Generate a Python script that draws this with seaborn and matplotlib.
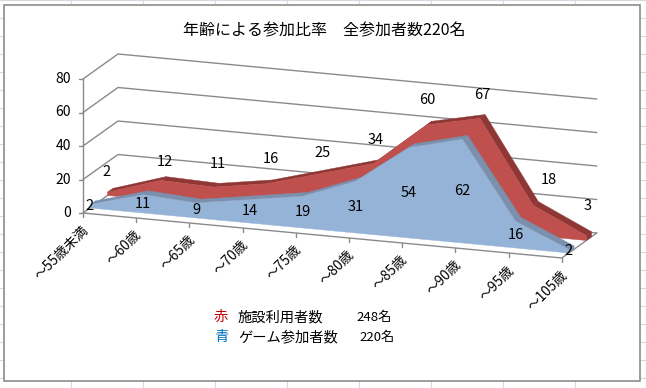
#!/usr/bin/env python3
# -*- coding: utf-8 -*-

import numpy as np
import pandas as pd
import matplotlib
matplotlib.use("Agg")
import matplotlib.pyplot as plt
import seaborn as sns

age_labels = ["～55歳未満", "～60歳", "～65歳", "～70歳", "～75歳",
              "～80歳", "～85歳", "～90歳", "～95歳", "～105歳"]
facility_users = [2, 12, 11, 16, 25, 34, 60, 67, 18, 3]
game_players = [2, 11, 9, 14, 19, 31, 54, 62, 16, 2]
value_ticks = [0, 20, 40, 60, 80]

title_text = "年齢による参加比率　全参加者数220名"
legend_red = ["赤", "施設利用者数", "248名"]
legend_blue = ["青", "ゲーム参加者数", "220名"]

sns.set_theme(style="white")
plt.rcParams['font.family'] = ['Noto Sans CJK JP', 'DejaVu Sans']

GRID = "#8a8a8a"
SHEET = "#d4d9e2"
RED, RED_DARK = "#c0504d", "#8e3735"
BLUE, BLUE_DARK = "#95b3d7", "#7a90ad"


# oblique projection of the excel 3d chart, all in pixels of the picture
def proj(i, v, d):
    i, v, d = np.asarray(i, float), np.asarray(v, float), np.asarray(d, float)
    return 83 + 53.2 * i + 35 * d, 213 + 5 * i - 1.675 * v - 25 * d


def line(ax, xs, ys, color=GRID, lw=1.0):
    sns.lineplot(x=list(xs), y=list(ys), color=color, linewidth=lw, sort=False,
                 estimator=None, errorbar=None, ax=ax, zorder=2)


def draw_area(ax, vals, d0, d1, front, top):
    vals = np.asarray(vals, float)
    idx = np.arange(len(vals))
    # top faces, back to front along the slope
    for i in range(len(vals) - 1):
        xa, ya = proj([i, i + 1, i + 1, i], [vals[i], vals[i + 1], vals[i + 1], vals[i]],
                      [d0, d0, d1, d1])
        ax.fill(xa, ya, color=top, lw=0.3, zorder=3)
    # end face on the right
    xe, ye = proj([idx[-1]] * 4, [0, vals[-1], vals[-1], 0], [d0, d0, d1, d1])
    ax.fill(xe, ye, color=top, lw=0.3, zorder=3)
    # front face
    xf, yf = proj(idx, vals, d0)
    xb, yb = proj(idx[::-1], 0, d0)
    ax.fill(np.r_[xf, xb], np.r_[yf, yb], color=front, lw=0.3, zorder=3)


fig = plt.figure(figsize=(6.46, 3.88), dpi=100)
fig.patch.set_facecolor("white")
ax = fig.add_axes([0, 0, 1, 1])

# worksheet cells behind the chart
for x in range(71, 646, 72):
    ax.axvline(x, color=SHEET, lw=0.8, zorder=0)
for y in range(0, 388, 18):
    ax.axhline(y, color=SHEET, lw=0.8, zorder=0)
ax.add_patch(plt.Rectangle((3.5, 4.5), 636, 376, fc="white", ec="#8c8c8c", lw=1.2, zorder=1))

n = len(age_labels)

# walls
for v in value_ticks:
    xs, ys = proj([0, 0, n - 1], [v, v, v], [0, 1, 1])
    line(ax, xs, ys)
    xt, yt = proj(0, v, 0)
    line(ax, [xt - 4, xt], [yt, yt])
    ax.text(xt - 12, yt, str(v), ha="right", va="center", fontsize=10, color="black", zorder=6)
xs, ys = proj([0, 0], [0, value_ticks[-1]], [0, 0])
line(ax, xs, ys)

# floor edges and category ticks
xs, ys = proj([0, n - 1, n - 1], [0, 0, 0], [0, 0, 1])
line(ax, xs, ys)
for i, lab in enumerate(age_labels):
    xt, yt = proj(i, 0, 0)
    line(ax, [xt, xt], [yt, yt + 4])
    ax.text(xt + 3, yt + 15, lab, rotation=45, rotation_mode="anchor", ha="right", va="center",
            fontsize=9.8, color="black", zorder=6)

draw_area(ax, facility_users, 0.7, 0.85, RED, RED_DARK)
draw_area(ax, game_players, 0.2, 0.35, BLUE, BLUE_DARK)

# data labels, red ones float above the back edge with excel's small offsets
red_nudge = [(-6, -16), (-1, -15), (-1, -19), (-1, -21), (-3, -17),
             (-3, -20), (-5, -21), (-3, -20), (10, -22), (-4, -26)]
for i, v in enumerate(facility_users):
    x, y = proj(i, v, 0.85)
    ax.text(x + red_nudge[i][0], y + red_nudge[i][1], str(v), ha="center", va="center",
            fontsize=10.5, color="black", zorder=7)
for i, v in enumerate(game_players):
    x, y = proj(i, v / 2, 0.2)
    ax.text(x, y, str(v), ha="center", va="center", fontsize=10.5, color="black", zorder=7)

ax.text(324, 31, title_text, ha="center", va="center", fontsize=11.5, color="black", zorder=7)

table = pd.DataFrame([legend_red, legend_blue], columns=["mark", "name", "count"])
table["color"] = ["#c00000", "#0070c0"]
table["y"] = [317, 337]
table["count_x"] = [356, 359]
for row in table.itertuples():
    ax.text(214, row.y, row.mark, ha="left", va="center", fontsize=10.3, color=row.color, zorder=7)
    ax.text(238, row.y, row.name, ha="left", va="center", fontsize=10.3, color="black", zorder=7)
    ax.text(row.count_x, row.y, row.count, ha="left", va="center", fontsize=9.5, color="black", zorder=7)

ax.set_xlim(0, 646)
ax.set_ylim(388, 0)
ax.axis("off")
fig.savefig("out.png", dpi=100)
